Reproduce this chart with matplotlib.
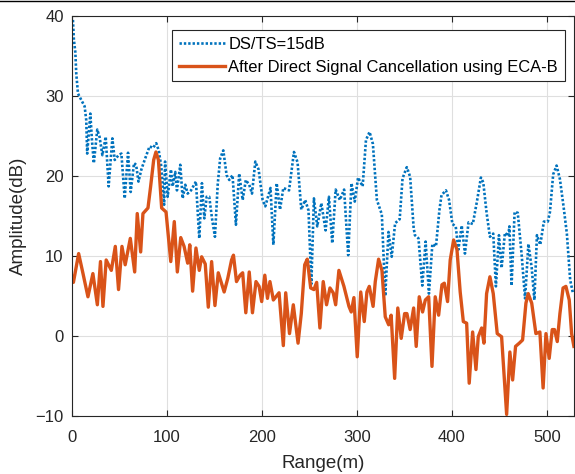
import numpy as np
import matplotlib
matplotlib.use('Agg')
import matplotlib.pyplot as plt
from matplotlib.lines import Line2D

plt.rcParams['font.family'] = ['Liberation Sans', 'DejaVu Sans']

# DS/TS=15dB (blue dotted)
blue_x = [1, 2, 3.5, 4.5, 6.3, 9.8, 13.3, 15, 16, 19.3, 21, 23, 26.6, 29, 32, 35.5, 38.6, 42.5,
          45, 49, 52, 55.5, 59, 61.8, 65.3, 67.5, 70, 73, 76.5, 81.7, 85.3, 88.7, 91.3, 94, 97,
          98, 100.7, 104.2, 106, 108.7, 110.5, 114, 116.5, 119.3, 121.8, 125.3, 130.5, 134,
          136.8, 139.3, 141.8, 144.5, 147.4, 150.5, 153.4, 156, 159.3, 162.8, 165.6, 169,
          172.6, 176, 179.7, 183, 186.6, 189.5, 193, 196.5, 200.7, 203.5, 209, 212, 215.5,
          219, 222.5, 228.5, 233.7, 237.5, 241.4, 245.5, 249, 252, 254.7, 258.2, 262.5, 267,
          270.5, 274, 277.6, 282, 286.5, 290.8, 294.2, 297.7, 301.2, 306, 309.5, 313.3, 316.8,
          321, 326.2, 329.8, 333.2, 336.6, 340.2, 345, 348, 352.5, 356, 359.7, 361, 364.8,
          368.8, 372.3, 375.8, 379.4, 383.2, 386.8, 389, 393.7, 397, 400.5, 404, 406.8, 410.3,
          413.7, 417.5, 422, 426.6, 430.5, 433, 436.5, 440, 443.5, 446.3, 449.5, 452.3, 455.8,
          459.3, 460.5, 462.8, 466, 469.3, 473.3, 477, 480.5, 484, 486.8, 489.5, 493, 496.8,
          501, 503.2, 506.6, 510.2, 513.7, 517.5, 521, 524.5, 527.5]
blue_y = [39.5, 37, 35.5, 32.8, 30.3, 29.5, 28.7, 27, 22.8, 27.8, 24.5, 21.6, 25.8, 24.9, 22.6,
          24.9, 18.7, 24.7, 22.0, 22.6, 22.8, 17.2, 22.9, 18.0, 21.6, 21.4, 19.3, 20.8, 22.0,
          23.7, 23.5, 24.1, 23.2, 21.2, 16.4, 21.8, 17.4, 20.8, 18.7, 20.5, 18.2, 21.4, 17.2,
          18.9, 17.8, 18.2, 19.3, 12.2, 19.1, 14.7, 17.4, 17.4, 14.7, 12.4, 18.9, 22.2, 23.2,
          20.1, 19.5, 20.1, 13.9, 20.3, 17.0, 19.5, 18.9, 17.8, 21.8, 20.8, 17.0, 16.2, 18.5,
          11.4, 19.1, 15.8, 18.5, 18.2, 23.0, 21.7, 15.8, 17.0, 15.7, 6.5, 17.2, 13.7, 16.6,
          13.2, 17.4, 11.6, 18.3, 17.0, 18.3, 10.1, 19.1, 16.8, 19.8, 18.7, 24.5, 25.5, 24.0,
          17.0, 15.2, 5.0, 13.0, 9.9, 14.1, 14.6, 19.7, 21.1, 19.9, 13.5, 12.6, 12.2, 6.3,
          11.8, 5.3, 11.5, 11.2, 15.7, 17.6, 18.2, 17.0, 14.0, 13.7, 10.8, 13.8, 10.3, 14.2,
          14.0, 17.0, 19.8, 19.2, 15.4, 12.4, 12.8, 6.2, 12.6, 8.5, 12.9, 12.5, 13.7, 6.3,
          15.5, 15.4, 10.3, 4.7, 11.5, 8.5, 4.5, 12.6, 11.4, 14.3, 14.3, 15.5, 20.2, 21.3,
          19.6, 16.2, 12.8, 7.0, 5.3]

# After Direct Signal Cancellation using ECA-B (orange)
orange_x = [0, 1.5, 7, 11.6, 16.8, 22, 26.7, 30, 32.6, 36, 41.4, 45.6, 49, 52.6, 56, 61.4, 66,
            68.7, 72.3, 74.7, 80, 82.8, 86, 88.4, 91, 94.4, 99, 104, 107.7, 110.9, 114.5, 118,
            121.8, 124, 127, 130.5, 134, 136.5, 140.3, 143.5, 147, 150.5, 154, 160.2, 164,
            168, 170, 173.2, 177, 179.7, 183, 186.6, 190, 193.7, 197, 199.7, 203, 205.8,
            208.4, 212, 218, 222.5, 225, 229, 233, 238, 241.4, 245, 247.7, 251.3, 254.7,
            257.6, 261, 264.5, 268, 271.6, 275, 277.6, 281, 286.3, 291.6, 294, 296.8, 300.3,
            304, 307.7, 310.5, 313, 317, 319.3, 322.8, 326.3, 329.8, 333.4, 336, 339.7, 343,
            346.6, 350.2, 352.6, 356, 359.7, 362.4, 365.6, 369.1, 372, 375.5, 379, 382.4,
            386, 389.5, 392, 395.4, 398.2, 401.8, 405.3, 408.7, 412, 415.5, 418.2, 421.8,
            425.3, 427.7, 431.3, 433.7, 436.5, 440, 443.5, 447.7, 452.3, 457.6, 461, 463.9,
            467, 470.9, 474.4, 477.9, 480.3, 484, 488.4, 492.6, 496, 499, 502.4, 505.6, 508,
            510.9, 513.7, 517, 520, 523.5, 526, 528.4]
orange_y = [7.4, 6.7, 10.3, 7.8, 4.9, 7.8, 3.9, 9.3, 3.7, 9.5, 8.2, 11.2, 5.8, 11.2, 8.9, 12.2,
            8.0, 15.3, 10.5, 15.3, 16.0, 18.7, 22.0, 23.0, 22.0, 16.0, 15.5, 9.3, 14.3, 8.0,
            12.3, 11.2, 9.1, 11.4, 5.6, 11.0, 8.2, 9.9, 9.0, 3.6, 9.3, 3.8, 7.9, 5.5, 7.2, 9.5,
            10.1, 6.8, 7.6, 7.9, 2.9, 8.0, 2.9, 6.8, 6.2, 4.3, 7.6, 4.7, 6.8, 4.5, 5.4, -1.2,
            5.4, 0.3, 3.9, -0.9, 2.8, 8.9, 9.6, 6.0, 5.8, 6.7, 1.0, 6.8, 3.9, 6.0, 5.4, 3.9,
            8.2, 6.2, 3.7, 3.0, 4.8, -2.6, 5.5, 1.8, 5.5, 6.2, 3.7, 6.8, 9.6, 8.2, 2.4, 1.4,
            2.6, -5.3, 3.5, -0.3, 2.8, 2.8, 0.8, 3.5, -1.3, 4.9, 3.0, 4.5, 4.9, -3.8, 4.9,
            2.6, 6.4, 6.6, 4.3, 9.5, 12.0, 10.8, 5.5, 1.8, 1.6, -5.9, 0.5, -4.2, -0.1, 1.0,
            -0.9, 5.3, 7.4, 5.3, 0.3, -0.1, -9.8, -2.0, -5.5, -1.3, -0.9, -0.5, 4.1, 5.3, 4.1,
            0.3, 0.5, -6.5, 0.3, -2.8, 0.8, 0.8, -0.7, 2.8, 6.0, 6.2, 4.5, 0.3, -1.3]

x_ticks = [0, 100, 200, 300, 400, 500]
y_ticks = [-10, 0, 10, 20, 30, 40]

dark = '#262626'

fig = plt.figure(figsize=(5.75, 4.74), dpi=100)
ax = fig.add_axes([0.1252, 0.1224, 0.8722, 0.8439])

ax.plot(blue_x, blue_y, color='#0072BD', lw=1.9, linestyle=(0, (0.9, 0.75)),
        label='DS/TS=15dB')
ax.plot(orange_x, orange_y, color='#D95319', lw=2.4, label='After Direct Signal Cancellation using ECA-B')

ax.set_xlim(0, 528)
ax.set_ylim(-10, 40)
ax.set_xticks(x_ticks)
ax.set_yticks(y_ticks)
ax.grid(True, color='#dfdfdf', lw=0.8)
ax.set_axisbelow(True)
ax.tick_params(direction='in', length=4, width=0.8, top=True, right=True,
               labelsize=12, colors=dark)
ax.tick_params(axis='x', pad=10)
ax.tick_params(axis='y', pad=6)
for s in ax.spines.values():
    s.set_color(dark)
    s.set_linewidth(0.8)

ax.set_xlabel('Range(m)', fontsize=13.5, color=dark, labelpad=7)
ax.set_ylabel('Amplitude(dB)', fontsize=13.5, color=dark, labelpad=6)

leg = ax.legend(loc='upper left', bbox_to_anchor=(0.2, 0.965), borderaxespad=0,
                fontsize=11.9, handlelength=2.8, handletextpad=0.2, labelspacing=0.5,
                borderpad=0.4, fancybox=False, framealpha=1)
leg.get_frame().set_edgecolor(dark)
leg.get_frame().set_linewidth(0.8)

# thin black rule along the top edge of the image
fig.add_artist(Line2D([0, 1], [0.997, 0.997], transform=fig.transFigure, color='black', lw=1))

fig.savefig('out.png', dpi=100)
